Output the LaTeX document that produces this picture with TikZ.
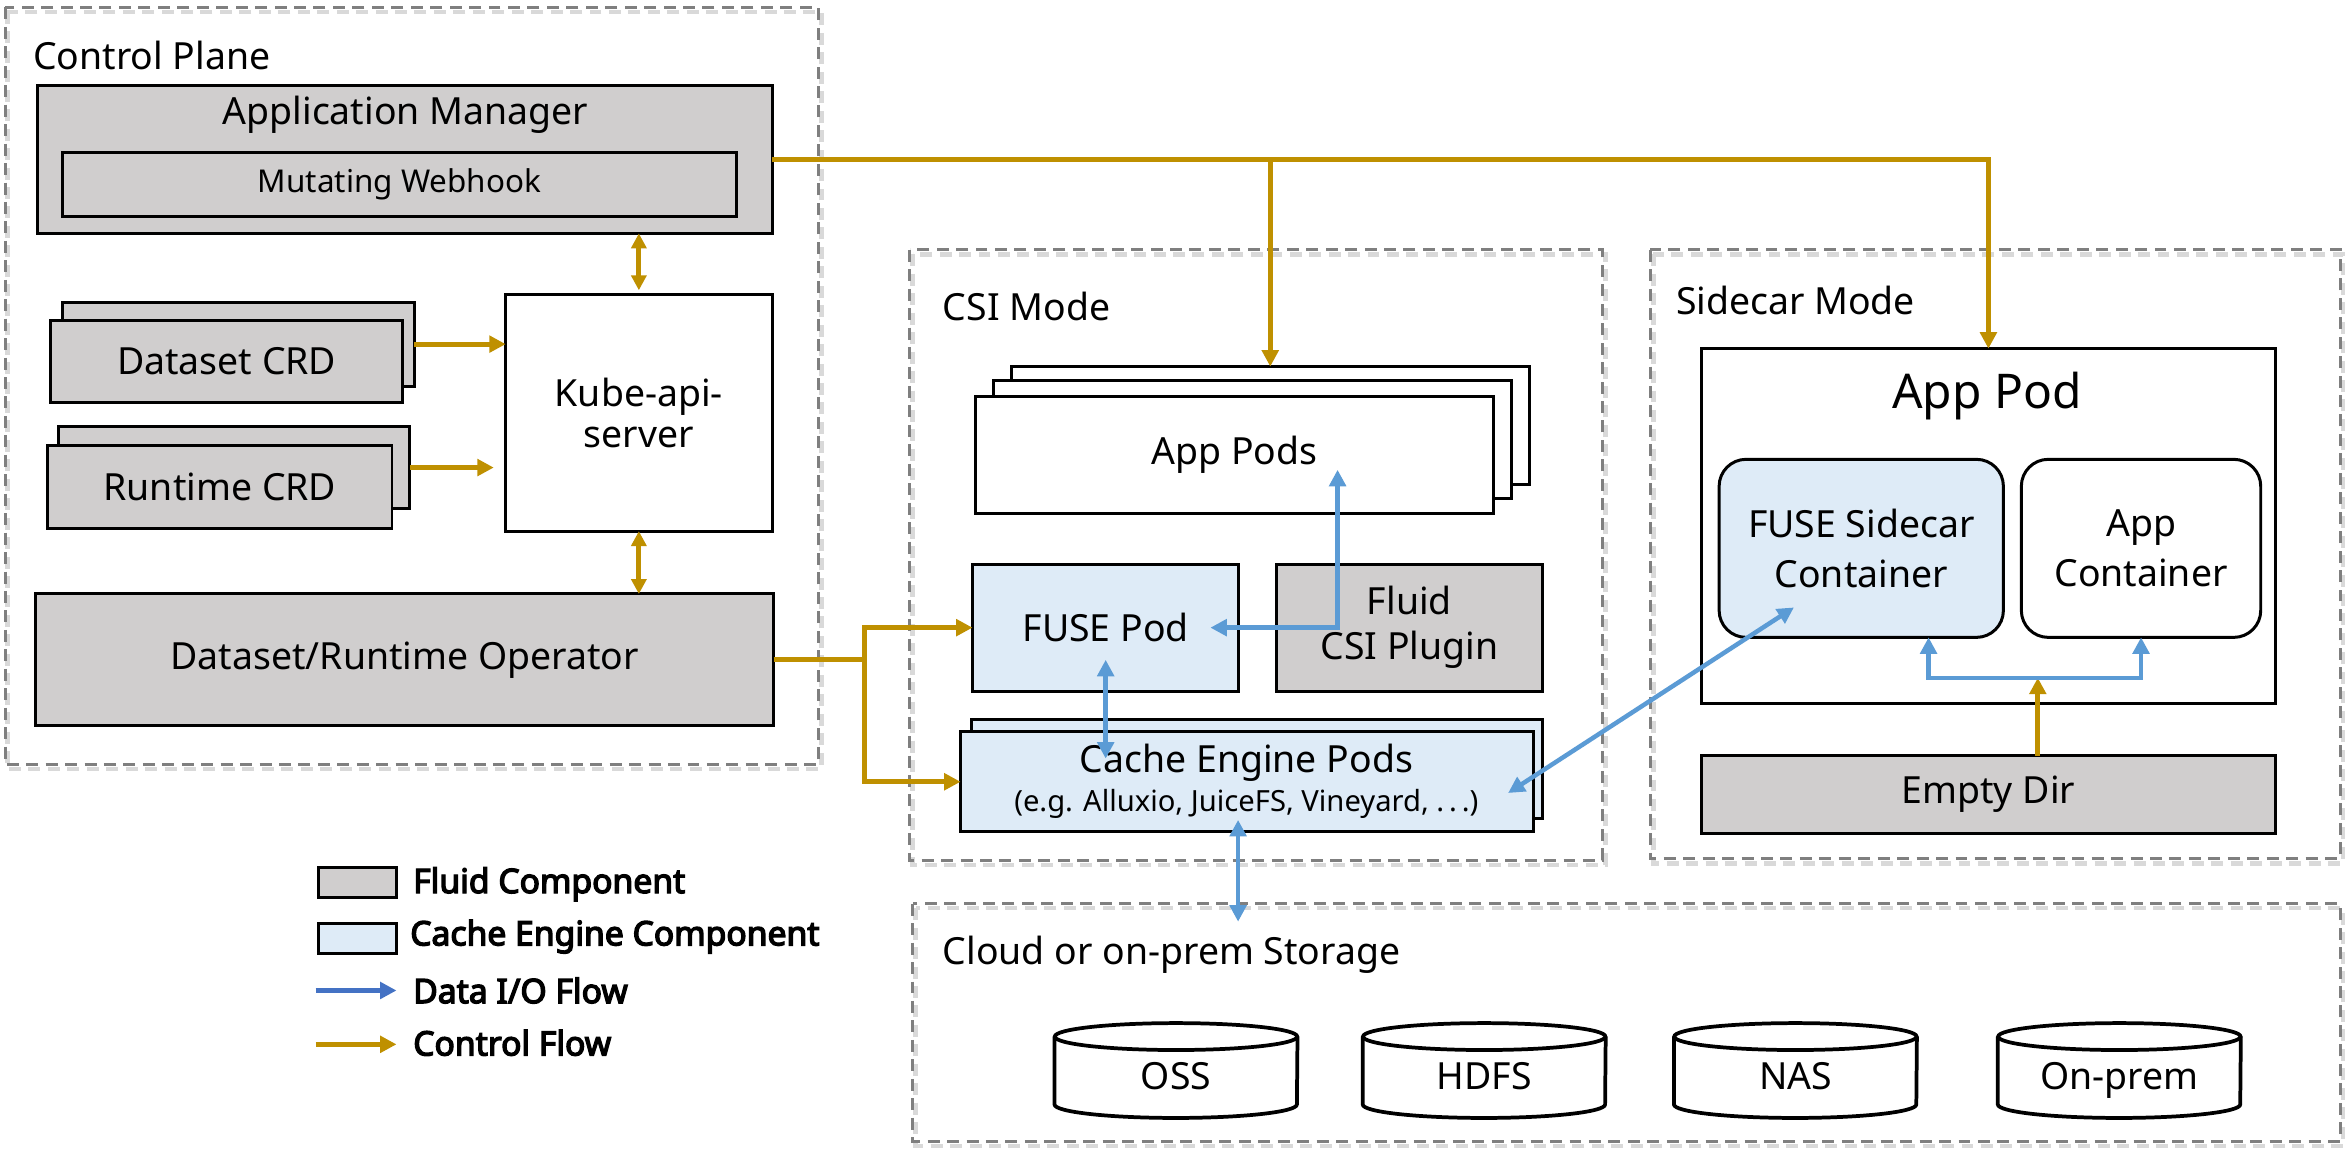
\documentclass[tikz,border=0pt]{standalone}
\usepackage{fontspec}
\setmainfont{Noto Sans}
\newfontfamily\legfont{Noto Sans}[FakeBold=4]
\usetikzlibrary{arrows.meta,calc}
\definecolor{fluidgray}{HTML}{D0CECE}
\definecolor{cacheblue}{HTML}{DEEBF7}
\definecolor{framegray}{HTML}{7F7F7F}
\definecolor{ctrlgold}{HTML}{BF9000}
\definecolor{datablue}{HTML}{5B9BD5}
\definecolor{legblue}{HTML}{4472C4}
\newcommand{\fz}[2]{\fontsize{#1pt}{#2pt}\selectfont}
\tikzset{
  base/.style={draw=black, line width=2pt, inner sep=0pt, outer sep=0pt, align=center, font=\fz{25}{30}},
  gbox/.style={base, fill=fluidgray},
  bbox/.style={base, fill=cacheblue},
  wbox/.style={base, fill=white},
  frame/.style={draw=framegray, line width=2pt, dash pattern=on 8pt off 5pt},
  frameshadow/.style={draw=black!15, line width=3pt, dash pattern=on 8pt off 5pt},
  heading/.style={anchor=west, inner sep=0pt, font=\fz{25}{30}},
  txt/.style={inner sep=0pt, font=\fz{25}{30}},
  ctrl/.style={draw=ctrlgold, line width=3.2pt, -{Triangle[length=11pt, width=11pt]}},
  ctrlboth/.style={draw=ctrlgold, line width=3.2pt, {Triangle[length=10pt, width=10pt]}-{Triangle[length=10pt, width=10pt]}},
  ctrlline/.style={draw=ctrlgold, line width=3.2pt},
  data/.style={draw=datablue, line width=3pt, -{Triangle[length=11pt, width=11pt]}},
  databoth/.style={draw=datablue, line width=3pt, {Triangle[length=11pt, width=11pt]}-{Triangle[length=11pt, width=11pt]}},
  legtxt/.style={anchor=west, inner sep=0pt, font=\legfont\fz{22.5}{26}},
  cylline/.style={draw=black, line width=2.5pt}
}
\begin{document}
\begin{tikzpicture}[x=1pt, y=-1pt]
\useasboundingbox (0,0) rectangle (1568,768.6);
\fill[white] (0,0) rectangle (1568,768.6);

% ---------- frames ----------
\draw[frameshadow] (5,8) rectangle (549,514);
\draw[frame] (3.5,5) rectangle (547,511);
\draw[frameshadow] (610,170) rectangle (1073,578);
\draw[frame] (608,167) rectangle (1071,575);
\draw[frameshadow] (1105,170) rectangle (1566,577);
\draw[frame] (1103,167) rectangle (1564,574);
\draw[frameshadow] (612,607) rectangle (1566,766);
\draw[frame] (610,604) rectangle (1564,763);

\node[heading] (cptitle) at (22,37) {Control Plane};
\node[heading] (csititle) at (630,205) {CSI Mode};
\node[heading] (sctitle) at (1120,201) {Sidecar Mode};
\node[heading] (sttitle) at (630,638) {Cloud or on-prem Storage};

% ---------- control plane ----------
\node[gbox, minimum width=491pt, minimum height=99pt] (appmgr) at (270.5,106.5) {};
\node[txt] (appmgrtxt) at (271,77) {Application Manager};
\node[gbox, minimum width=450pt, minimum height=43pt, font=\fz{21}{25}] (webhook) at (267,123.5) {Mutating Webhook};
\node[wbox, minimum width=178pt, minimum height=158pt, font=\fz{25}{28}] (kube) at (427,276) {Kube-api-\\server};
\node[gbox, minimum width=235pt, minimum height=56pt] (dsback) at (159.5,230) {};
\node[gbox, minimum width=235pt, minimum height=55pt] (dsfront) at (151.5,241.5) {Dataset CRD};
\node[gbox, minimum width=235pt, minimum height=55pt] (rtback) at (156.5,312.5) {};
\node[gbox, minimum width=230pt, minimum height=55pt] (rtfront) at (147,325.5) {Runtime CRD};
\node[gbox, minimum width=493pt, minimum height=88pt] (operator) at (270.5,441) {Dataset/Runtime Operator};

% ---------- CSI mode ----------
\node[wbox, minimum width=346pt, minimum height=79pt] (apppods3) at (849,284.5) {};
\node[wbox, minimum width=346pt, minimum height=79pt] (apppods2) at (837,293.5) {};
\node[wbox, minimum width=346pt, minimum height=78pt] (apppods1) at (825,304) {App Pods};
\node[bbox, minimum width=178pt, minimum height=85pt] (fusepod) at (739,419.5) {FUSE Pod};
\node[gbox, minimum width=178pt, minimum height=85pt] (csiplugin) at (942,419.5) {Fluid\\CSI Plugin};
\node[bbox, minimum width=382pt, minimum height=66pt] (cacheback) at (840,514) {};
\node[bbox, minimum width=383pt, minimum height=67pt] (cachefront) at (833.5,522.5) {};
\node[txt] (cachetxt) at (833,510) {Cache Engine Pods};
\node[txt, font=\fz{19.5}{23}] (cachesub) at (833,537) {(e.g. Alluxio, JuiceFS, Vineyard, .\,.\,.)};

% ---------- sidecar mode ----------
\node[wbox, minimum width=384pt, minimum height=237pt] (apppod) at (1329,351.5) {};
\node[txt, font=\fz{32}{36}] (apppodtxt) at (1328,265) {App Pod};
\node[bbox, rounded corners=18pt, minimum width=190pt, minimum height=119pt, font=\fz{25}{33}] (fusesidecar) at (1244,366.5) {FUSE Sidecar\\Container};
\node[wbox, rounded corners=18pt, minimum width=160pt, minimum height=119pt, font=\fz{25}{33}] (appcontainer) at (1431,366.5) {App\\Container};
\node[gbox, minimum width=384pt, minimum height=52pt] (emptydir) at (1329,531) {Empty Dir};

% ---------- storage ----------
\foreach \n/\cx/\t in {oss/786/OSS, hdfs/992/HDFS, nas/1200/NAS, onprem/1416.5/On-prem}{
  \node[txt, minimum width=162pt, minimum height=63pt, text height=26pt, text depth=0pt] (\n) at (\cx,715.5) {\t};
  \draw[cylline] ($(\n.north)+(0,9)$) ellipse [x radius=81pt, y radius=9pt];
  \draw[cylline] ($(\n.north west)+(0,9)$) -- ($(\n.south west)+(0,-9)$) arc[start angle=180, end angle=360, x radius=81pt, y radius=9pt] -- ($(\n.north east)+(0,9)$);
}

% ---------- control flow ----------
\coordinate (j1) at (appmgr.east -| apppods3.north);
\draw[ctrl] (appmgr.east) -| (apppod.north);
\draw[ctrl] (j1) -- (apppods3.north);
\draw[ctrlboth, shorten <=3pt] (kube.north) -- (kube.north |- appmgr.south);
\draw[ctrlboth] (kube.south) -- (kube.south |- operator.north);
\draw[ctrl] (dsback.east) -- (kube.west |- dsback.east);
\draw[ctrl, shorten >=8pt] (rtback.east) -- (kube.west |- rtback.east);
\coordinate (split) at (578,441);
\draw[ctrlline] (operator.east) -- (split);
\draw[ctrl] (split) |- (fusepod.west);
\draw[ctrl] (split) |- (cachefront.west);
\coordinate (fork) at (1362,453);
\draw[ctrl] (emptydir.north -| fork) -- (fork);

% ---------- data flow ----------
\coordinate (fusein) at (809,419.5);
\coordinate (bend) at (894,419.5);
\coordinate (appin) at (894,314);
\draw[databoth] (fusein) -- (bend) -- (appin);
\coordinate (fusebot) at (739,441);
\coordinate (cachetop) at (739,507);
\draw[databoth] (fusebot) -- (cachetop);
\coordinate (cachebot) at (827.5,548);
\coordinate (storetop) at (827.5,616);
\draw[databoth] (cachebot) -- (storetop);
\coordinate (cacheright) at (1008,530);
\coordinate (sidecarin) at (1199,406);
\draw[databoth] (cacheright) -- (sidecarin);
\coordinate (forkl) at (1289,453);
\coordinate (forkr) at (1431,453);
\draw[databoth] (forkl |- fusesidecar.south) -- (forkl) -- (forkr) -- (forkr |- appcontainer.south);

% ---------- legend ----------
\node[gbox, minimum width=52pt, minimum height=20pt] (lgfluid) at (239,590) {};
\node[legtxt] (lgfluidtxt) at (276,591) {Fluid Component};
\node[bbox, minimum width=52pt, minimum height=20pt] (lgcache) at (239,627) {};
\node[legtxt] (lgcachetxt) at (274,626) {Cache Engine Component};
\coordinate (lgds) at (211,662);
\coordinate (lgde) at (265,662);
\draw[draw=legblue, line width=3pt, -{Triangle[length=11pt, width=11pt]}] (lgds) -- (lgde);
\node[legtxt] (lgdatatxt) at (276,662) {Data I/O Flow};
\coordinate (lgcs) at (211,698);
\coordinate (lgce) at (265,698);
\draw[ctrl] (lgcs) -- (lgce);
\node[legtxt] (lgctrltxt) at (276,697) {Control Flow};
\end{tikzpicture}
\end{document}
